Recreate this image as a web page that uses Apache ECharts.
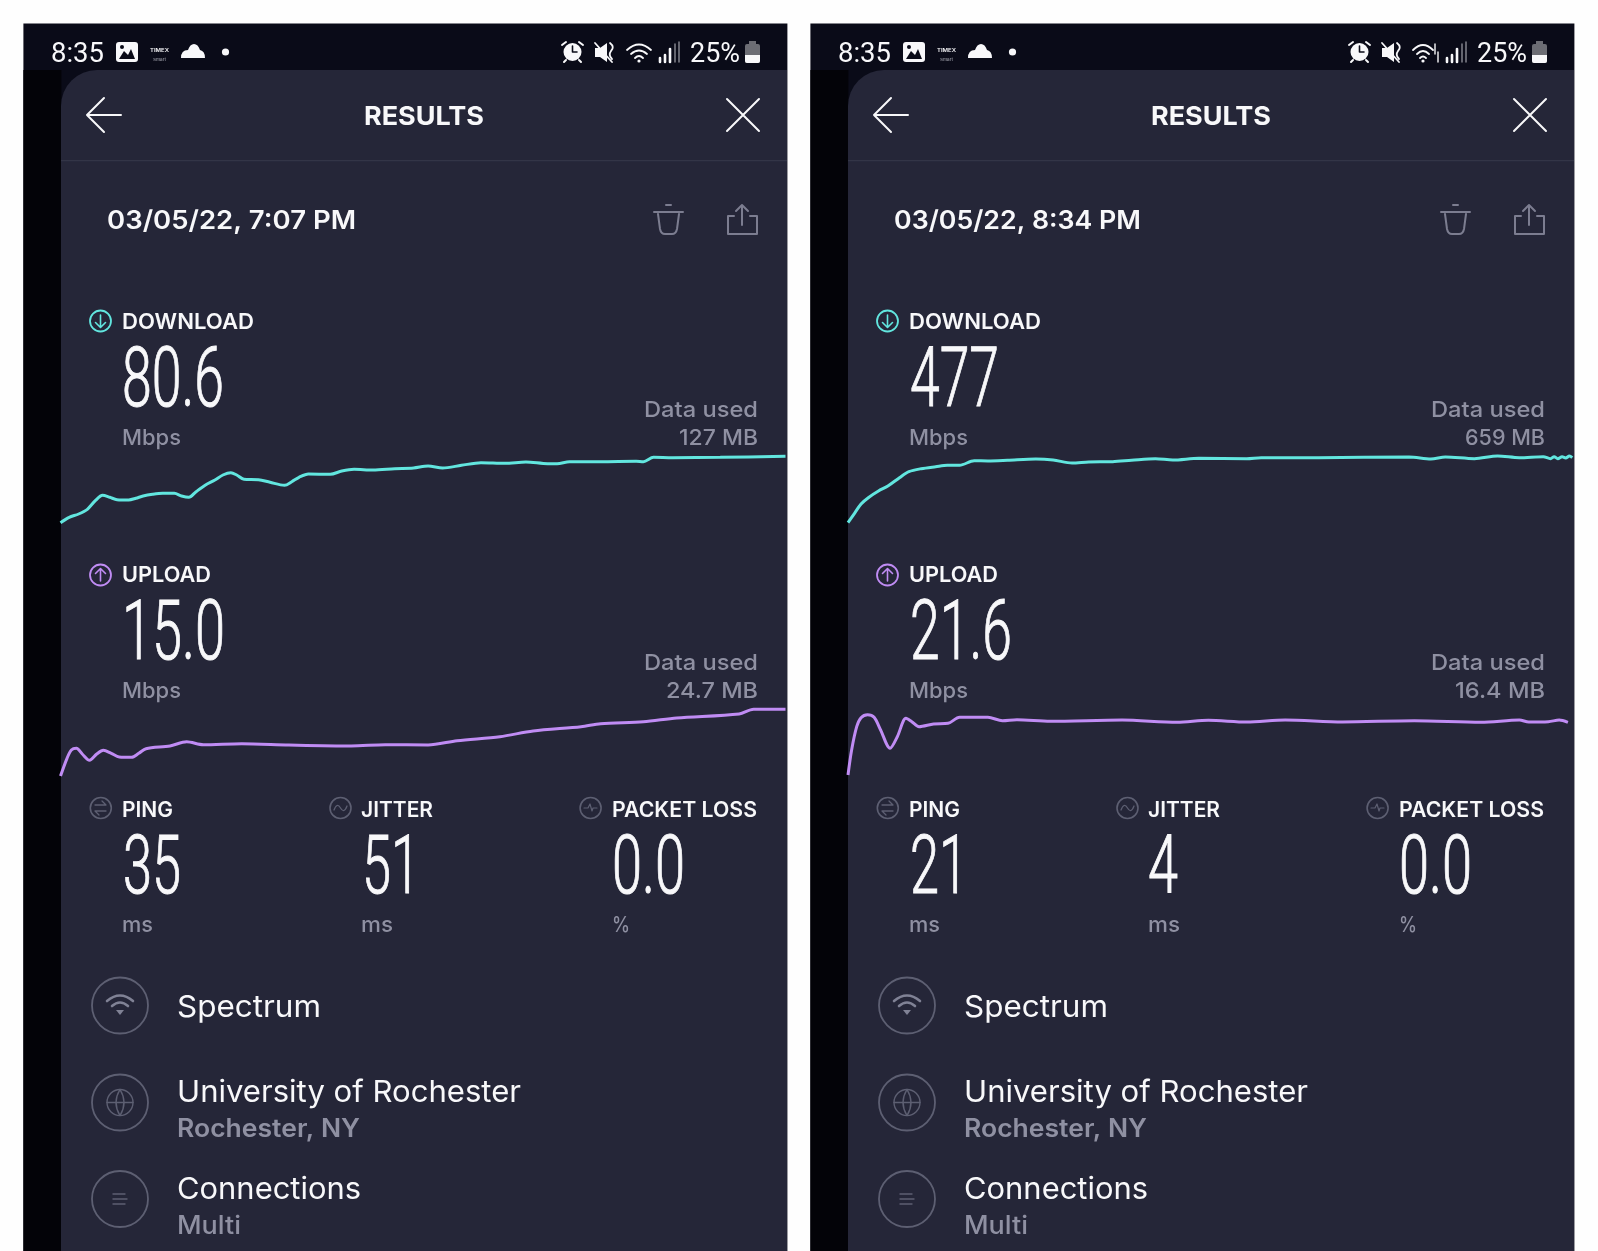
<!DOCTYPE html>
<html>
<head>
<meta charset="utf-8">
<title>Speedtest results</title>
<script src="https://cdn.jsdelivr.net/npm/echarts@6/dist/echarts.min.js"></script>
<style>
html, body { margin: 0; padding: 0; background: #fefefe; }
#main { width: 1598px; height: 1251px; }
</style>
</head>
<body>
<div id="main"></div>
<script>
// test values shown on each screen (left, right)
var dates = ['03/05/22, 7:07 PM', '03/05/22, 8:34 PM'];
var downloadMbps = ['80.6', '477'];
var uploadMbps = ['15.0', '21.6'];
var downloadUsed = ['127 MB', '659 MB'];
var uploadUsed = ['24.7 MB', '16.4 MB'];
var ping = ['35', '21'];
var jitter = ['51', '4'];
var packetLoss = ['0.0', '0.0'];

// curves: x = % of test elapsed, y = level in the graph
var dlLeftX = [0,1.2,2.5,3.7,4.8,5.8,6.8,7.8,9.4,10.4,11.4,12.7,14.1,15.7,16.7,17.7,18.7,20,21.3,22.4,23.5,24.3,25.3,27.3,28.9,30.9,31.9,32.9,34.2,37.2,38.8,40.5,43.1,46.1,48.7,50.7,52.7,55.3,58,61.3,64.2,67.2,68.5,70.2,74.5,79.4,80.4,81.8,84.4,91,100];
var dlLeftY = [7.3,12.7,16,20.7,29.3,34.7,32.7,30.3,30,31.7,34,35.7,36.7,36.7,34,32.7,38.3,45,50,55,57.3,55,50.7,50.3,47.7,44.7,48.3,52.7,56,55.7,59,60.7,60,61.3,62,64,62,64.7,67.3,66.7,68,66.3,66.3,68.3,68.3,68.7,68.3,72.7,72.3,72.7,73.7];
var ulLeftX = [0,.9,1.5,2.2,3,4,5,5.9,7,8.1,9.8,10.8,11.8,15.1,17.4,19.7,25,31.5,40.1,44.8,50.7,54.7,60.6,65.2,71.8,74.5,80.4,85,93.6,95.6,100];
var ulLeftY = [4,21.7,30,31.7,26,19.7,26,29.7,26.7,23,22.7,26.7,31.3,34,38.3,35.3,36.3,35,34,35.3,35,39.3,43.3,49,53.3,56.3,58.3,62,66,70.7,70.7];
var dlRightX = [0,.9,1.8,2.8,4.2,5.5,7.1,8.4,10.1,12.1,13.7,15.4,17.4,19.3,22,25.9,28.3,30.9,33.2,36.5,39.1,42.4,44.8,48.4,55,57,64.9,77.4,80.4,82.4,86.4,89.6,92.6,95.9,96.9,97.4,97.9,98.5,99,99.5,99.9];
var dlRightY = [7.3,16.7,26,32.3,39,44,52.3,58.3,61.3,63.3,64.7,64.7,69.3,69,69.7,71,70,67,68,68.3,69.7,71.3,70,71.7,71.3,72.3,72.3,73,71,73,71.3,74,72.3,73.3,71.3,73.3,71.3,73.3,72,74,72.3];
var ulRightX = [0,.5,1.2,1.8,2.7,3.6,4.5,5.8,6.8,8,8.8,9.8,11.8,13.8,15.4,19.3,21.3,23.3,27.9,37.8,45.4,49.7,55,60.3,68.2,78.1,87.3,92.6,93.9,96.6,98.1,99.3];
var ulRightY = [5,30,53.3,62.3,65.3,62.7,50,31.7,43.3,61.7,58.3,53.3,56,56.7,62.7,62.7,59.3,60.3,58.7,60,57.7,59.7,58,60,58,59.3,57.7,60,58,58.3,60,57.7];

var CYAN = '#62e6df', PURPLE = '#c08cf4', WHITE = '#f8f8fa', GREY = '#8f90a2', ICON = '#5d5f72';
var PANEL = '#252638', BAR = '#0a0b18', STRIP = '#030308';
var SHIFT = 787; // right phone sits this far from the left one

var ctx = document.createElement('canvas').getContext('2d');
var elements = [];
var iconCount = 0;

// graphic has no plain svg path type, so each icon gets its own registered shape
function iconType(d) {
    var name = 'icon' + (iconCount++);
    echarts.graphic.registerShape(name, echarts.graphic.extendPath(d, {}));
    return name;
}

// text squeezed to run from x1 to x2, the way the narrow app fonts look
function label(str, x1, x2, midY, size, color, weight, family) {
    var font = (weight || 400) + ' ' + size + 'px "' + (family || 'Inter') + '"';
    ctx.font = font;
    elements.push({
        type: 'text', x: x1, y: midY, scaleX: (x2 - x1) / ctx.measureText(str).width, z: 5,
        style: { text: str, font: font, fill: color, textAlign: 'left', textVerticalAlign: 'middle' }
    });
}
// the big result numbers, thickened a bit since squeezing thins the strokes
function bigNumber(str, x1, x2, midY, size) {
    label(str, x1, x2, midY, size, WHITE, 300, 'Roboto');
    var st = elements[elements.length - 1].style;
    st.stroke = WHITE;
    st.lineWidth = 1;
}
function box(x, y, w, h, color, r) {
    elements.push({ type: 'rect', z: 0, shape: { x: x, y: y, width: w, height: h, r: r || 0 }, style: { fill: color } });
}
function stroke(dx, d, color, width) {
    elements.push({ type: iconType(d), x: dx, y: 0, z: 5, style: { fill: null, stroke: color, lineWidth: width || 2, lineCap: 'round', lineJoin: 'round' } });
}
function solid(dx, d, color) {
    elements.push({ type: iconType(d), x: dx, y: 0, z: 5, style: { fill: color } });
}
function ring(cx, cy, r, color, width) {
    elements.push({ type: 'circle', z: 5, shape: { cx: cx, cy: cy, r: r }, style: { fill: null, stroke: color, lineWidth: width || 1.6 } });
}

function drawPhone(i) {
    var dx = i * SHIFT;
    box(23.4 + dx, 23.4, 764, 1228, BAR);
    box(23.4 + dx, 70, 38, 1181, STRIP);
    box(61 + dx, 70, 726, 1181, PANEL, [36, 0, 0, 0]);

    // status bar
    label('8:35', 51 + dx, 104 + dx, 55, 27, WHITE, 400, 'Roboto');
    box(116 + dx, 42, 22, 20, WHITE, 3);
    solid(dx, 'M119 59 L124 51 L128 55 L131 49 L135 59 Z', BAR);
    elements.push({ type: 'circle', z: 6, shape: { cx: 122 + dx, cy: 47, r: 2 }, style: { fill: BAR } });
    label('TIMEX', 150 + dx, 169 + dx, 50, 5, WHITE, 600);
    label('Smart', 153 + dx, 166 + dx, 60, 4, '#a9aab4', 400);
    solid(dx, 'M181 58 Q181 50 188 50 Q190 44 194 44 Q198 44 200 50 Q205 51 205 58 Z', WHITE);
    elements.push({ type: 'circle', z: 5, shape: { cx: 225.5 + dx, cy: 52, r: 3.6 }, style: { fill: WHITE } });
    // alarm
    elements.push({ type: 'circle', z: 5, shape: { cx: 572.5 + dx, cy: 52, r: 9 }, style: { fill: WHITE } });
    stroke(dx, 'M572.5 46 V52 H577', BAR, 1.6);
    stroke(dx, 'M562 45 L566 42 M583 45 L579 42 M566 60 L564 62 M579 60 L581 62', WHITE, 2);
    // mute
    solid(dx, 'M595 48 H600 L607 43 V62 L600 57 H595 Z', WHITE);
    stroke(dx, 'M595 43 L612 62 M610 43 Q615 47 611 51 Q608 55 612 59', WHITE, 1.8);
    // wifi, right phone has activity arrows next to it
    if (i === 0) {
        stroke(dx, 'M627 50 Q639 39 651 50 M631 54 Q639 47 647 54 M635 58 Q639 54 643 58', WHITE, 1.8);
    } else {
        stroke(dx, 'M626 50 Q636 40 646 50 M630 54 Q636 48 642 54 M633 58 Q636 55 639 58', WHITE, 1.8);
        stroke(dx, 'M648 44 V54 M651 52 V62', WHITE, 1.4);
    }
    elements.push({ type: 'circle', z: 5, shape: { cx: 639 + dx - i * 3, cy: 61, r: 1.6 }, style: { fill: WHITE } });
    // signal
    stroke(dx, 'M660 62 V58 M665 62 V55', WHITE, 2.6);
    stroke(dx, 'M670 62 V49', WHITE, 2.6);
    stroke(dx, 'M675 62 V44 M679 62 V42', '#8b8c94', 1.4);
    label('25%', 690 + dx, 740 + dx, 55, 27, WHITE, 400, 'Roboto');
    // battery
    box(749 + dx, 41, 7, 4, '#6c6d74');
    box(745 + dx, 44, 15, 19, '#6c6d74', 2);
    box(745 + dx, 55, 15, 8, WHITE, [0, 0, 2, 2]);

    // header
    stroke(dx, 'M121 115 H87 M104 98 L87 115 L104 132', WHITE, 2);
    label('RESULTS', 364 + dx, 484 + dx, 117, 26, WHITE, 700);
    stroke(dx, 'M727 99 L759 131 M759 99 L727 131', WHITE, 2);
    box(61 + dx, 160, 726, 1.2, '#333547');

    // date row
    label(dates[i], 107 + dx, i ? 355 + dx - 1 : 356 + dx, 221, 26, WHITE, 600);
    stroke(dx, 'M654 212 H683 M666 205 H671 M658 214 L660 229 Q661 234 665 234 H672 Q676 234 677 229 L679 214', '#7c7d90', 2);
    stroke(dx, 'M742 225 V205 M736 211 L742 205 L748 211 M734 216 H728 V234 H757 V216 H750', '#7c7d90', 2);

    // download block
    ring(100.5 + dx, 321, 10.5, CYAN, 1.8);
    stroke(dx, 'M100.5 315 V327 M95.5 322.5 L100.5 327.5 L105.5 322.5', CYAN, 1.6);
    label('DOWNLOAD', 122 + dx, 254 + dx, 322.5, 22, WHITE, 600);
    var dlRight = i ? 999 : 224;
    bigNumber(downloadMbps[i], (i ? 910 : 122), dlRight, 385, 84);
    label('Mbps', 122 + dx, 181 + dx, 438, 22, GREY, 500);
    label('Data used', 644 + dx, 758 + dx, 410.5, 22, GREY, 500);
    label(downloadUsed[i], (i ? 1465 : 679), 758 + dx, 438, 22, GREY, 500);

    // upload block
    ring(100.5 + dx, 575, 10.5, PURPLE, 1.8);
    stroke(dx, 'M100.5 581 V569 M95.5 573.5 L100.5 568.5 L105.5 573.5', PURPLE, 1.6);
    label('UPLOAD', 122 + dx, 211 + dx, 575.5, 22, WHITE, 600);
    var ulRight = i ? 1012 : 225;
    bigNumber(uploadMbps[i], (i ? 910 : 122), ulRight, 637.5, 84);
    label('Mbps', 122 + dx, 181 + dx, 691.5, 22, GREY, 500);
    label('Data used', 644 + dx, 758 + dx, 663.5, 22, GREY, 500);
    label(uploadUsed[i], (i ? 1455 : 666), 758 + dx, 691.5, 22, GREY, 500);

    // ping, jitter, packet loss
    ring(100.8 + dx, 808, 10.5, ICON);
    stroke(dx, 'M95 805 H106 L102 801 M106 811 H95 L99 815', ICON, 1.3);
    label('PING', 122 + dx, 173 + dx, 810.5, 21, WHITE, 600);
    bigNumber(ping[i], (i ? 910 : 123), (i ? 968 : 181), 872, 82);
    label('ms', 122 + dx, 153 + dx, 925.5, 22, GREY, 500);

    ring(340.5 + dx, 808, 10.5, ICON);
    stroke(dx, 'M334 810 Q337 802 340.5 808 Q344 814 347 806', ICON, 1.3);
    label('JITTER', 361 + dx, 433 + dx, 810.5, 21, WHITE, 600);
    bigNumber(jitter[i], (i ? 1148 : 362), (i ? 1178 : 420), 872, 82);
    label('ms', 361 + dx, 393 + dx, 925.5, 22, GREY, 500);

    ring(590.6 + dx, 808, 10.5, ICON);
    stroke(dx, 'M584 808 H588 L590 804 L592 811 L593 808 H597', ICON, 1.2);
    label('PACKET LOSS', 612 + dx, 757 + dx, 810.5, 21, WHITE, 600);
    bigNumber(packetLoss[i], 612 + dx, 685 + dx, 872, 82);
    label('%', 612 + dx, 630 + dx, 925.5, 22, GREY, 500);

    // server rows
    ring(120 + dx, 1005.5, 28, ICON, 1.8);
    stroke(dx, 'M107 1001 Q120 990 133 1001 M112 1006 Q120 999 128 1006', '#808295', 2.6);
    solid(dx, 'M116 1010 H124 L120 1015 Z', '#808295');
    label('Spectrum', 177 + dx, 321 + dx, 1007.5, 30, WHITE, 400);

    ring(120 + dx, 1102.5, 28, ICON, 1.8);
    ring(120 + dx, 1102.5, 13, ICON, 1.4);
    stroke(dx, 'M120 1089.5 Q112 1102.5 120 1115.5 Q128 1102.5 120 1089.5 M107 1102.5 H133', ICON, 1.4);
    label('University of Rochester', 177 + dx, 521 + dx, 1092.5, 30, WHITE, 400);
    label('Rochester, NY', 177 + dx, 360 + dx, 1129, 25, GREY, 600);

    ring(120 + dx, 1199, 28, ICON, 1.8);
    stroke(dx, 'M113 1194 H125 M113 1199 H127 M113 1204 H125', ICON, 1.4);
    label('Connections', 177 + dx, 361 + dx, 1189.5, 30, WHITE, 400);
    label('Multi', 177 + dx, 241 + dx, 1226, 25, GREY, 500);
}
drawPhone(0);
drawPhone(1);

function zip(xs, ys) {
    return xs.map(function (x, k) { return [x, ys[k]]; });
}

// four hidden-axis graphs, one per curve
var graphs = [
    { name: 'Download left', left: 60.5, top: 430, color: CYAN, xs: dlLeftX, ys: dlLeftY },
    { name: 'Upload left', left: 60.5, top: 680, color: PURPLE, xs: ulLeftX, ys: ulLeftY },
    { name: 'Download right', left: 848, top: 430, color: CYAN, xs: dlRightX, ys: dlRightY },
    { name: 'Upload right', left: 848, top: 680, color: PURPLE, xs: ulRightX, ys: ulRightY }
];

var chart = echarts.init(document.getElementById('main'), null, { renderer: 'canvas' });
chart.setOption({
    backgroundColor: '#fefefe',
    animation: false,
    graphic: { elements: elements },
    grid: graphs.map(function (g) {
        return { left: g.left, top: g.top, width: 725, height: 100 };
    }),
    xAxis: graphs.map(function (g, k) {
        return { type: 'value', gridIndex: k, min: 0, max: 100, show: false };
    }),
    yAxis: graphs.map(function (g, k) {
        return { type: 'value', gridIndex: k, min: 0, max: 100, show: false };
    }),
    series: graphs.map(function (g, k) {
        return {
            name: g.name,
            type: 'line',
            xAxisIndex: k,
            yAxisIndex: k,
            data: zip(g.xs, g.ys),
            showSymbol: false,
            smooth: 0.3,
            clip: false,
            z: 6,
            lineStyle: { color: g.color, width: 3 }
        };
    })
});
</script>
</body>
</html>
